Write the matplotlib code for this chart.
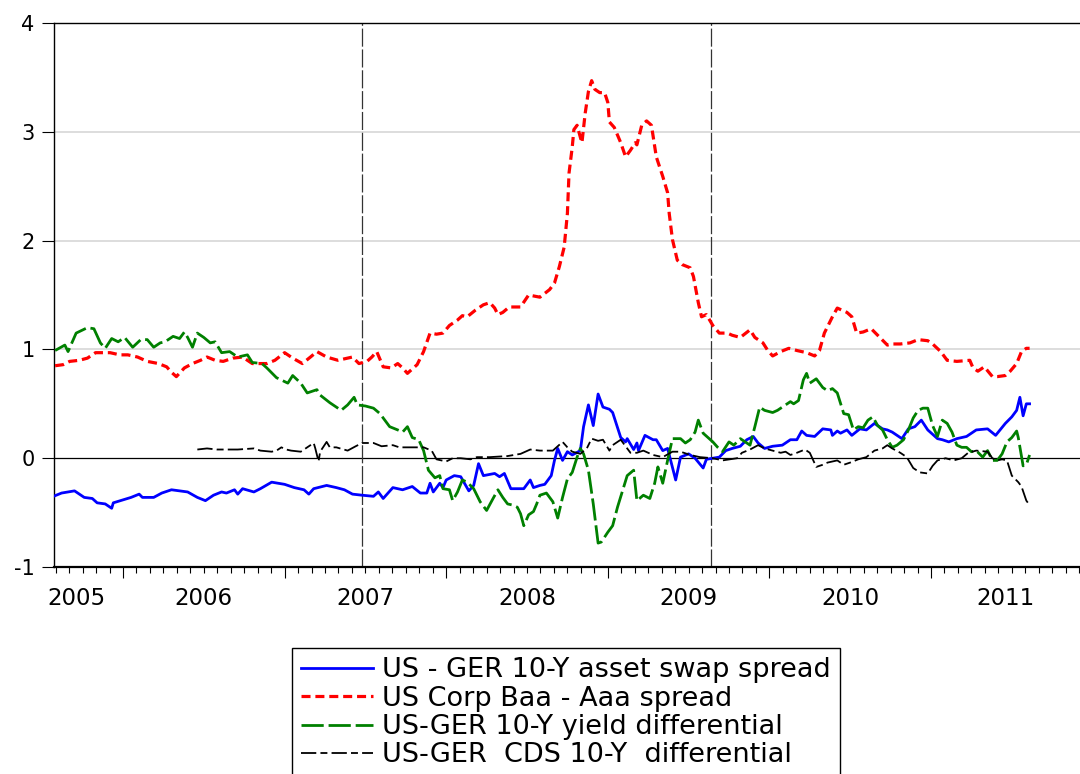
import matplotlib
matplotlib.use('Agg')
import matplotlib.pyplot as plt
from matplotlib.ticker import FixedLocator

# dashes given in points, not multiples of the line width
plt.rcParams['lines.scale_dashes'] = False
plt.rcParams['font.family'] = ['DejaVu Sans']

# ---- data (decimal years, percentage points) ----
swap_x = [2005.57, 2005.62, 2005.70, 2005.76, 2005.81, 2005.84, 2005.89, 2005.93, 2005.94, 2006.05,
          2006.10, 2006.12, 2006.19, 2006.24, 2006.30, 2006.40, 2006.46, 2006.51, 2006.56, 2006.61,
          2006.64, 2006.69, 2006.71, 2006.74, 2006.81, 2006.85, 2006.92, 2007.00, 2007.06, 2007.12,
          2007.15, 2007.18, 2007.26, 2007.32, 2007.37, 2007.42, 2007.48, 2007.55, 2007.58, 2007.61,
          2007.67, 2007.73, 2007.79, 2007.84, 2007.88, 2007.90, 2007.92, 2007.96, 2007.98, 2008.00,
          2008.05, 2008.09, 2008.14, 2008.17, 2008.20, 2008.23, 2008.30, 2008.33, 2008.36, 2008.40,
          2008.48, 2008.52, 2008.54, 2008.58, 2008.61, 2008.65, 2008.67, 2008.69, 2008.72, 2008.75,
          2008.78, 2008.83, 2008.85, 2008.88, 2008.91, 2008.94, 2008.97, 2009.01, 2009.03, 2009.08,
          2009.11, 2009.12, 2009.16, 2009.18, 2009.19, 2009.23, 2009.28, 2009.30, 2009.34, 2009.37,
          2009.42, 2009.45, 2009.50, 2009.54, 2009.59, 2009.61, 2009.65, 2009.69, 2009.73, 2009.77,
          2009.82, 2009.86, 2009.90, 2009.93, 2009.97, 2010.02, 2010.08, 2010.13, 2010.17, 2010.20,
          2010.23, 2010.28, 2010.33, 2010.38, 2010.39, 2010.42, 2010.44, 2010.48, 2010.51, 2010.56,
          2010.60, 2010.65, 2010.70, 2010.73, 2010.76, 2010.82, 2010.86, 2010.90, 2010.94, 2010.98,
          2011.04, 2011.07, 2011.11, 2011.16, 2011.22, 2011.28, 2011.35, 2011.40, 2011.46, 2011.50,
          2011.53, 2011.55, 2011.57, 2011.59, 2011.61]
swap_y = [-0.35, -0.32, -0.30, -0.36, -0.37, -0.41, -0.42, -0.46, -0.41, -0.36,
          -0.33, -0.36, -0.36, -0.32, -0.29, -0.31, -0.36, -0.39, -0.34, -0.31,
          -0.32, -0.29, -0.33, -0.28, -0.31, -0.28, -0.22, -0.24, -0.27, -0.29,
          -0.33, -0.28, -0.25, -0.27, -0.29, -0.33, -0.34, -0.35, -0.31, -0.37,
          -0.27, -0.29, -0.26, -0.32, -0.32, -0.23, -0.31, -0.23, -0.27, -0.20,
          -0.16, -0.17, -0.30, -0.25, -0.05, -0.16, -0.14, -0.17, -0.14, -0.28,
          -0.28, -0.20, -0.27, -0.25, -0.24, -0.16, -0.02, 0.09, -0.02, 0.06,
          0.03, 0.07, 0.29, 0.49, 0.30, 0.59, 0.47, 0.45, 0.42, 0.19,
          0.15, 0.18, 0.08, 0.14, 0.07, 0.21, 0.17, 0.17, 0.07, 0.09,
          -0.20, 0.01, 0.04, 0.00, -0.09, -0.01, 0.00, 0.01, 0.07, 0.09,
          0.11, 0.17, 0.20, 0.14, 0.09, 0.11, 0.12, 0.17, 0.17, 0.25,
          0.21, 0.20, 0.27, 0.26, 0.21, 0.25, 0.23, 0.26, 0.21, 0.27,
          0.26, 0.32, 0.27, 0.26, 0.24, 0.18, 0.27, 0.29, 0.35, 0.26,
          0.18, 0.17, 0.15, 0.18, 0.20, 0.26, 0.27, 0.21, 0.32, 0.38,
          0.44, 0.56, 0.39, 0.50, 0.50]

baa_x = [2005.58, 2005.63, 2005.67, 2005.73, 2005.78, 2005.83, 2005.87, 2005.92, 2005.98, 2006.03,
         2006.09, 2006.15, 2006.22, 2006.27, 2006.30, 2006.33, 2006.38, 2006.43, 2006.48, 2006.52,
         2006.57, 2006.62, 2006.68, 2006.74, 2006.80, 2006.89, 2006.94, 2007.00, 2007.05, 2007.11,
         2007.16, 2007.20, 2007.26, 2007.33, 2007.42, 2007.46, 2007.51, 2007.54, 2007.57, 2007.61,
         2007.66, 2007.70, 2007.73, 2007.76, 2007.82, 2007.86, 2007.90, 2007.94, 2007.98, 2008.02,
         2008.07, 2008.10, 2008.13, 2008.18, 2008.23, 2008.27, 2008.30, 2008.32, 2008.35, 2008.39,
         2008.46, 2008.51, 2008.58, 2008.64, 2008.67, 2008.70, 2008.73, 2008.75, 2008.76, 2008.78,
         2008.79, 2008.81, 2008.83, 2008.84, 2008.86, 2008.88, 2008.90, 2008.92, 2008.95, 2008.98,
         2009.00, 2009.01, 2009.04, 2009.08, 2009.11, 2009.14, 2009.17, 2009.18, 2009.21, 2009.24,
         2009.27, 2009.30, 2009.34, 2009.37, 2009.38, 2009.40, 2009.43, 2009.46, 2009.51, 2009.53,
         2009.56, 2009.58, 2009.61, 2009.65, 2009.69, 2009.74, 2009.77, 2009.82, 2009.88, 2009.91,
         2009.96, 2009.99, 2010.02, 2010.07, 2010.12, 2010.17, 2010.23, 2010.28, 2010.31, 2010.34,
         2010.39, 2010.42, 2010.48, 2010.51, 2010.54, 2010.58, 2010.63, 2010.67, 2010.73, 2010.76,
         2010.81, 2010.87, 2010.92, 2010.98, 2011.01, 2011.06, 2011.10, 2011.16, 2011.24, 2011.26,
         2011.29, 2011.33, 2011.38, 2011.41, 2011.46, 2011.49, 2011.53, 2011.56, 2011.59, 2011.61]
baa_y = [0.85, 0.86, 0.89, 0.90, 0.92, 0.97, 0.97, 0.97, 0.95, 0.95,
         0.93, 0.89, 0.87, 0.84, 0.79, 0.75, 0.83, 0.87, 0.90, 0.93,
         0.90, 0.89, 0.92, 0.93, 0.87, 0.87, 0.90, 0.97, 0.92, 0.87,
         0.93, 0.98, 0.93, 0.90, 0.93, 0.87, 0.89, 0.93, 0.98, 0.84,
         0.83, 0.87, 0.83, 0.78, 0.86, 0.98, 1.15, 1.14, 1.15, 1.22,
         1.27, 1.31, 1.30, 1.36, 1.41, 1.43, 1.38, 1.32, 1.34, 1.39,
         1.39, 1.50, 1.48, 1.55, 1.61, 1.76, 1.94, 2.25, 2.62, 2.86,
         3.02, 3.06, 2.95, 2.90, 3.17, 3.37, 3.47, 3.39, 3.36, 3.36,
         3.27, 3.09, 3.04, 2.90, 2.77, 2.83, 2.90, 2.88, 3.06, 3.10,
         3.06, 2.77, 2.59, 2.44, 2.25, 2.01, 1.82, 1.78, 1.75, 1.67,
         1.43, 1.30, 1.32, 1.22, 1.15, 1.15, 1.13, 1.11, 1.18, 1.11,
         1.06, 0.99, 0.94, 0.98, 1.01, 0.99, 0.97, 0.94, 0.99, 1.15,
         1.30, 1.38, 1.34, 1.30, 1.15, 1.16, 1.19, 1.13, 1.04, 1.05,
         1.05, 1.06, 1.09, 1.08, 1.05, 0.98, 0.90, 0.89, 0.90, 0.83,
         0.80, 0.84, 0.75, 0.75, 0.76, 0.80, 0.87, 0.98, 1.01, 1.01]

yield_x = [2005.58, 2005.64, 2005.66, 2005.71, 2005.78, 2005.82, 2005.86, 2005.89, 2005.93, 2005.97,
           2006.01, 2006.06, 2006.11, 2006.15, 2006.19, 2006.23, 2006.26, 2006.31, 2006.35, 2006.38,
           2006.40, 2006.43, 2006.46, 2006.50, 2006.54, 2006.57, 2006.61, 2006.66, 2006.71, 2006.77,
           2006.80, 2006.86, 2006.89, 2006.95, 2007.02, 2007.05, 2007.10, 2007.14, 2007.20, 2007.22,
           2007.28, 2007.35, 2007.39, 2007.43, 2007.45, 2007.50, 2007.55, 2007.59, 2007.65, 2007.70,
           2007.73, 2007.76, 2007.79, 2007.83, 2007.86, 2007.89, 2007.93, 2007.96, 2007.98, 2008.02,
           2008.04, 2008.07, 2008.10, 2008.13, 2008.17, 2008.21, 2008.25, 2008.29, 2008.32, 2008.35,
           2008.38, 2008.41, 2008.44, 2008.46, 2008.48, 2008.51, 2008.54, 2008.56, 2008.58, 2008.62,
           2008.66, 2008.69, 2008.72, 2008.75, 2008.78, 2008.81, 2008.83, 2008.85, 2008.88, 2008.91,
           2008.94, 2008.96, 2009.00, 2009.03, 2009.06, 2009.12, 2009.16, 2009.18, 2009.22, 2009.26,
           2009.29, 2009.31, 2009.34, 2009.37, 2009.40, 2009.45, 2009.48, 2009.51, 2009.54, 2009.56,
           2009.59, 2009.65, 2009.68, 2009.71, 2009.75, 2009.78, 2009.82, 2009.85, 2009.88, 2009.91,
           2009.94, 2009.97, 2010.02, 2010.05, 2010.10, 2010.13, 2010.15, 2010.18, 2010.21, 2010.23,
           2010.25, 2010.29, 2010.33, 2010.36, 2010.39, 2010.42, 2010.46, 2010.49, 2010.52, 2010.55,
           2010.58, 2010.61, 2010.64, 2010.67, 2010.70, 2010.73, 2010.76, 2010.79, 2010.83, 2010.86,
           2010.89, 2010.92, 2010.95, 2010.98, 2011.01, 2011.04, 2011.07, 2011.10, 2011.13, 2011.16,
           2011.19, 2011.22, 2011.25, 2011.28, 2011.32, 2011.35, 2011.38, 2011.41, 2011.44, 2011.47,
           2011.50, 2011.53, 2011.54, 2011.57, 2011.59, 2011.61]
yield_y = [0.99, 1.04, 0.98, 1.15, 1.20, 1.19, 1.06, 1.01, 1.10, 1.07,
           1.11, 1.02, 1.09, 1.09, 1.02, 1.06, 1.07, 1.12, 1.10, 1.16,
           1.11, 1.02, 1.15, 1.11, 1.06, 1.07, 0.97, 0.98, 0.93, 0.95,
           0.88, 0.87, 0.83, 0.74, 0.69, 0.76, 0.69, 0.60, 0.63, 0.58,
           0.51, 0.44, 0.49, 0.56, 0.49, 0.48, 0.46, 0.41, 0.29, 0.26,
           0.24, 0.29, 0.19, 0.17, 0.07, -0.11, -0.18, -0.16, -0.28, -0.29,
           -0.39, -0.31, -0.20, -0.22, -0.28, -0.40, -0.48, -0.37, -0.29, -0.36,
           -0.42, -0.43, -0.45, -0.51, -0.62, -0.52, -0.49, -0.42, -0.34, -0.32,
           -0.40, -0.55, -0.36, -0.19, -0.13, 0.01, 0.09, 0.04, -0.11, -0.42,
           -0.78, -0.77, -0.68, -0.62, -0.45, -0.16, -0.11, -0.39, -0.34, -0.37,
           -0.23, -0.08, -0.23, -0.02, 0.18, 0.18, 0.14, 0.17, 0.24, 0.35,
           0.23, 0.15, 0.10, 0.06, 0.15, 0.12, 0.18, 0.15, 0.12, 0.29,
           0.47, 0.44, 0.42, 0.44, 0.49, 0.52, 0.50, 0.53, 0.72, 0.78,
           0.69, 0.73, 0.65, 0.62, 0.64, 0.60, 0.41, 0.40, 0.26, 0.29,
           0.28, 0.35, 0.38, 0.30, 0.26, 0.17, 0.10, 0.12, 0.17, 0.26,
           0.37, 0.44, 0.46, 0.46, 0.30, 0.20, 0.35, 0.32, 0.24, 0.12,
           0.10, 0.10, 0.06, 0.07, 0.01, 0.07, -0.02, -0.02, 0.04, 0.15,
           0.19, 0.25, 0.19, -0.07, -0.06, 0.03]

cds_x = [2006.46, 2006.52, 2006.58, 2006.71, 2006.81, 2006.85, 2006.92, 2006.95, 2006.98, 2007.01,
         2007.04, 2007.10, 2007.13, 2007.18, 2007.19, 2007.21, 2007.22, 2007.26, 2007.28, 2007.32,
         2007.39, 2007.44, 2007.48, 2007.55, 2007.60, 2007.67, 2007.71, 2007.79, 2007.86, 2007.91,
         2007.94, 2008.00, 2008.04, 2008.09, 2008.15, 2008.19, 2008.27, 2008.38, 2008.46, 2008.52,
         2008.58, 2008.66, 2008.72, 2008.75, 2008.78, 2008.83, 2008.87, 2008.90, 2008.94, 2008.97,
         2009.01, 2009.03, 2009.08, 2009.11, 2009.14, 2009.18, 2009.22, 2009.28, 2009.34, 2009.40,
         2009.45, 2009.51, 2009.57, 2009.65, 2009.71, 2009.80, 2009.83, 2009.88, 2009.93, 2009.97,
         2010.02, 2010.07, 2010.10, 2010.13, 2010.17, 2010.22, 2010.25, 2010.29, 2010.33, 2010.36,
         2010.42, 2010.46, 2010.50, 2010.55, 2010.60, 2010.65, 2010.70, 2010.73, 2010.76, 2010.81,
         2010.85, 2010.89, 2010.93, 2010.98, 2011.01, 2011.04, 2011.09, 2011.14, 2011.19, 2011.23,
         2011.28, 2011.35, 2011.38, 2011.41, 2011.44, 2011.47, 2011.50, 2011.54, 2011.56, 2011.59,
         2011.61]
cds_y = [0.08, 0.09, 0.08, 0.08, 0.09, 0.07, 0.06, 0.07, 0.10, 0.08,
         0.07, 0.06, 0.09, 0.14, 0.09, -0.03, 0.06, 0.15, 0.10, 0.10,
         0.07, 0.11, 0.14, 0.14, 0.11, 0.12, 0.10, 0.10, 0.10, 0.07,
         -0.01, -0.03, 0.00, 0.00, -0.01, 0.01, 0.01, 0.02, 0.04, 0.08,
         0.07, 0.07, 0.15, 0.10, 0.06, 0.04, 0.09, 0.18, 0.16, 0.17,
         0.07, 0.12, 0.17, 0.11, 0.05, 0.05, 0.07, 0.03, 0.01, 0.06,
         0.06, 0.03, 0.01, 0.00, -0.02, 0.00, 0.05, 0.08, 0.12, 0.09,
         0.07, 0.05, 0.06, 0.03, 0.05, 0.08, 0.05, -0.08, -0.06, -0.04,
         -0.02, -0.06, -0.04, -0.01, 0.01, 0.07, 0.09, 0.12, 0.09, 0.05,
         0.01, -0.09, -0.13, -0.14, -0.07, -0.02, 0.00, -0.02, 0.00, 0.05,
         0.07, 0.06, 0.00, -0.02, -0.01, -0.02, -0.16, -0.22, -0.26, -0.39,
         -0.43]

labels = ['US - GER 10-Y asset swap spread',
          'US Corp Baa - Aaa spread',
          'US-GER 10-Y yield differential',
          'US-GER  CDS 10-Y  differential']

event_dates = [2007.48, 2009.64]
years = [2005, 2006, 2007, 2008, 2009, 2010, 2011]
year_label_x = [2005.71, 2006.5, 2007.5, 2008.5, 2009.5, 2010.5, 2011.46]

# ---- figure ----
fig = plt.figure(figsize=(10.8, 7.74), dpi=100)
ax = fig.add_axes([0.05, 0.2674, 0.95, 0.7029])

# reference lines
for g in [1, 2, 3]:
    ax.axhline(g, color='#d3d3d3', lw=1.1, zorder=0)
ax.axhline(0, color='black', lw=0.9, zorder=1)
for d in event_dates:
    ax.axvline(d, color='#333333', lw=0.9, dashes=(13, 2), zorder=1)

# series
ax.plot(swap_x, swap_y, color='#0000ff', lw=2.0, label=labels[0], zorder=3)
ax.plot(baa_x, baa_y, color='#ff0000', lw=2.3, dashes=(6.5, 3.5), label=labels[1], zorder=3)
ax.plot(yield_x, yield_y, color='#008000', lw=2.0, dashes=(16, 3.5), label=labels[2], zorder=3)
ax.plot(cds_x, cds_y, color='black', lw=1.3, dashes=(11, 3, 5, 3), label=labels[3], zorder=4)

ax.set_xlim(2005.573, 2011.922)
ax.set_ylim(-1, 4)

# axes frame
ax.spines['right'].set_visible(False)
ax.spines['top'].set_linewidth(1.0)
ax.spines['left'].set_linewidth(1.0)
ax.spines['bottom'].set_linewidth(1.6)

ax.set_yticks([-1, 0, 1, 2, 3, 4])
ax.set_yticklabels(['-1', '0', '1', '2', '3', '4'])
ax.tick_params(axis='y', direction='out', length=9, width=0.8, pad=5, labelsize=15)

# year boundaries as long ticks, months as short ticks
ax.xaxis.set_major_locator(FixedLocator(years[1:]))
ax.xaxis.set_minor_locator(FixedLocator([y + m / 12 for y in years for m in range(1, 12)]))
ax.tick_params(axis='x', which='major', direction='out', length=8, width=0.8, labelbottom=False)
ax.tick_params(axis='x', which='minor', direction='out', length=4.3, width=0.8)

for yx, yr in zip(year_label_x, years):
    ax.text(yx, -0.057, str(yr), transform=ax.get_xaxis_transform(),
            ha='center', va='center', fontsize=16.5)

leg = fig.legend(loc='upper left', bbox_to_anchor=(292 / 1080, 1 - 648 / 774),
                 borderaxespad=0, fontsize=19.5, handlelength=2.65, handletextpad=0.33,
                 borderpad=0.35, labelspacing=0.085, fancybox=False,
                 framealpha=1, edgecolor='black')
leg.get_frame().set_linewidth(1.0)

plt.savefig('out.png', dpi=100)
